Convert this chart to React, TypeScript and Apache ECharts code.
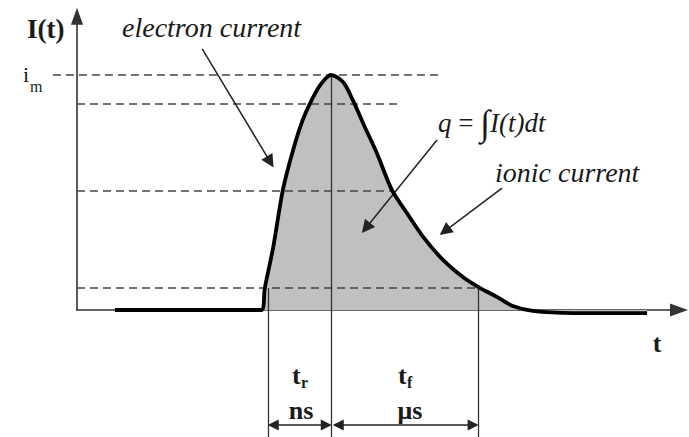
import React, { useEffect, useRef } from "react";
import * as echarts from "echarts";

// Current pulse I(t), normalised so that the peak current i_m = 1
const curveT = [6.3, 30.6, 31.2, 32.6, 34.2, 35.9, 37.5, 39.0, 40.4, 42.2, 44.2, 45.8, 47.5, 49.8, 52.3, 54.8, 57.5, 60.8, 64.1, 66.9, 69.8, 72.4, 75.7, 82.4, 94.7];
const curveI = [0, 0, 0.094, 0.268, 0.511, 0.681, 0.809, 0.894, 0.957, 1.0, 0.97, 0.894, 0.796, 0.668, 0.511, 0.413, 0.311, 0.213, 0.14, 0.094, 0.055, 0.017, -0.004, -0.013, -0.013];

// Dashed reference levels and the time span each guide covers
const levelValues = [1.0, 0.877, 0.509, 0.094];
const levelStart = [-4.0, 0, 0, 0];
const levelEnd = [60.0, 53.7, 52.3, 66.6];

// Boundaries of t_r and t_f
const markerT = [31.7, 42.2, 66.6];
const markerTop = [0.094, 1.0, 0.094];
const markerBottom = -0.55;

// Dimension arrows for t_r and t_f
const dimLevel = -0.489;
const dimStart = [32.6, 43.4];
const dimEnd = [41.4, 65.8];

// Annotation arrows (electron current, charge q, ionic current)
const arrowStartT = [20.8, 59.8, 70.6];
const arrowStartI = [1.111, 0.723, 0.519];
const arrowEndT = [32.1, 48.0, 61.1];
const arrowEndI = [0.63, 0.349, 0.336];

const TRI = "path://M5,0 L10,14 L0,14 Z";
const SERIF = "Liberation Serif";

export default function App() {
  const ref = useRef<HTMLDivElement>(null);

  useEffect(() => {
    if (!ref.current) return;
    const chart = echarts.init(ref.current, undefined, { renderer: "svg" });
    const curve = curveT.map((t, i) => [t, curveI[i]]);

    const txt = (
      text: string,
      x: number,
      y: number,
      size: number,
      opts: { bold?: boolean; italic?: boolean; align?: string } = {}
    ) => {
      const style: any = {
        text,
        fontFamily: SERIF,
        fontSize: size,
        fill: "#1a1a1a",
        align: opts.align || "left",
        verticalAlign: "middle",
      };
      if (opts.bold) style.fontWeight = "bold";
      if (opts.italic) style.fontStyle = "italic";
      return { type: "text", x, y, style };
    };

    chart.setOption({
      animation: false,
      backgroundColor: "#fff",
      grid: { left: 77, right: 10, top: 16.25, bottom: 127 },
      xAxis: {
        type: "value",
        min: 0,
        max: 100,
        axisLine: {
          onZero: true,
          lineStyle: { color: "#333", width: 1.6 },
          symbol: ["none", TRI],
          symbolSize: [20, 18],
        },
        axisTick: { show: false },
        axisLabel: { show: false },
        splitLine: { show: false },
      },
      yAxis: {
        type: "value",
        min: 0,
        max: 1.25,
        axisLine: {
          show: true,
          lineStyle: { color: "#333", width: 1.6 },
          symbol: ["none", TRI],
          symbolSize: [17, 17],
        },
        axisTick: { show: false },
        axisLabel: { show: false },
        splitLine: { show: false },
      },
      series: [
        {
          name: "charge",
          type: "line",
          data: curve,
          smooth: 0.3,
          symbol: "none",
          clip: false,
          lineStyle: { width: 0 },
          areaStyle: { color: "#c0c0c0", opacity: 1 },
          z: 1,
        },
        {
          name: "levels",
          type: "lines",
          coordinateSystem: "cartesian2d",
          clip: false,
          lineStyle: { color: "#444", width: 1.5, type: [8, 5], opacity: 1 },
          data: levelValues.map((v, i) => ({ coords: [[levelStart[i], v], [levelEnd[i], v]] })),
          z: 3,
        },
        {
          name: "markers",
          type: "lines",
          coordinateSystem: "cartesian2d",
          clip: false,
          lineStyle: { color: "#333", width: 1.3, opacity: 1 },
          data: markerT.map((t, i) => ({ coords: [[t, markerTop[i]], [t, markerBottom]] })),
          z: 3,
        },
        {
          name: "spans",
          type: "lines",
          coordinateSystem: "cartesian2d",
          clip: false,
          symbol: [TRI, TRI],
          symbolSize: 11,
          lineStyle: { color: "#222", width: 1.5, opacity: 1 },
          data: dimStart.map((t, i) => ({ coords: [[t, dimLevel], [dimEnd[i], dimLevel]] })),
          z: 3,
        },
        {
          name: "notes",
          type: "lines",
          coordinateSystem: "cartesian2d",
          clip: false,
          symbol: ["none", TRI],
          symbolSize: 13,
          lineStyle: { color: "#222", width: 1.5, opacity: 1 },
          data: arrowStartT.map((t, i) => ({
            coords: [[t, arrowStartI[i]], [arrowEndT[i], arrowEndI[i]]],
          })),
          z: 4,
        },
        {
          name: "I(t)",
          type: "line",
          data: curve,
          smooth: 0.3,
          symbol: "none",
          clip: false,
          lineStyle: { color: "#000", width: 3.8, join: "round" },
          z: 5,
        },
      ],
      graphic: [
        txt("I(t)", 27, 29, 27, { bold: true }),
        txt("i", 23, 74, 22),
        txt("m", 30, 86, 16),
        txt("electron current", 122, 27, 28, { italic: true }),
        {
          type: "text",
          x: 438,
          y: 123,
          style: {
            text: "{q|q} {o|=} {i|∫}{q|I(t)dt}",
            verticalAlign: "middle",
            fontFamily: SERIF,
            fontSize: 27,
            fill: "#1a1a1a",
            rich: {
              q: { fontFamily: SERIF, fontSize: 27, fontStyle: "italic", fill: "#1a1a1a" },
              o: { fontFamily: SERIF, fontSize: 27, fill: "#1a1a1a" },
              i: { fontFamily: SERIF, fontSize: 36, fill: "#1a1a1a" },
            },
          },
        },
        txt("ionic current", 495, 172, 28, { italic: true }),
        txt("t", 657, 343, 26, { bold: true, align: "center" }),
        txt("t", 292, 375, 26, { bold: true }),
        txt("r", 301, 382, 16, { bold: true }),
        txt("ns", 301, 410, 26, { bold: true, align: "center" }),
        txt("t", 398, 375, 26, { bold: true }),
        txt("f", 407, 382, 16, { bold: true }),
        txt("μs", 410, 410, 26, { bold: true, align: "center" }),
      ],
    });

    return () => chart.dispose();
  }, []);

  return (
    <div
      ref={ref}
      style={{ position: "fixed", left: 0, top: 0, width: 689, height: 437, background: "#fff" }}
    />
  );
}
